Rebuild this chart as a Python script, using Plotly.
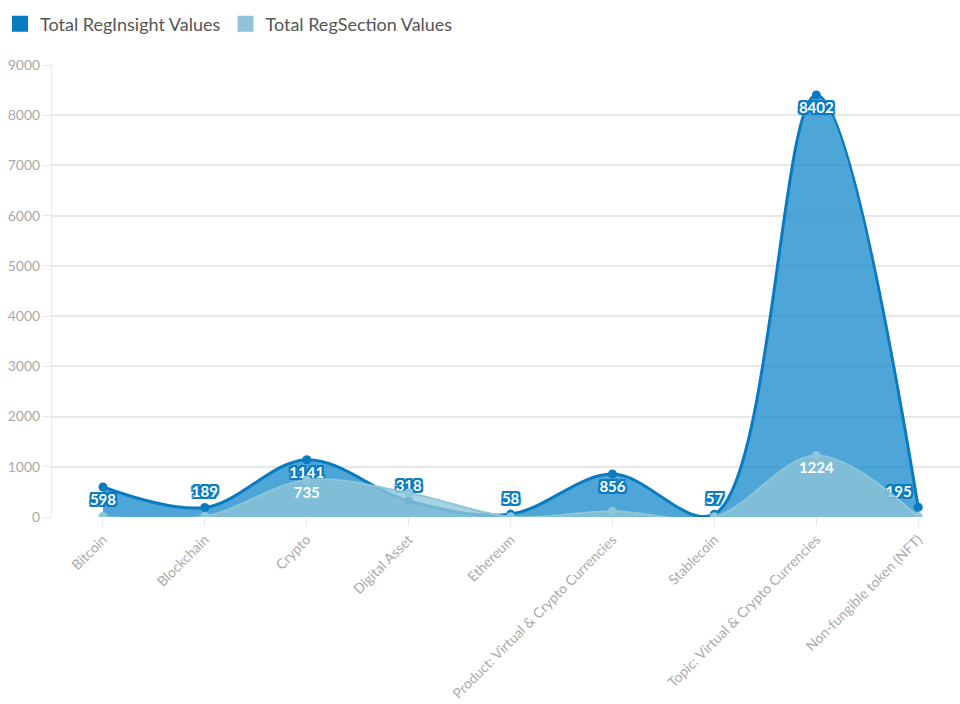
import plotly.graph_objects as go

categories = [
    "Bitcoin", "Blockchain", "Crypto", "Digital Asset", "Ethereum",
    "Product: Virtual & Crypto Currencies", "Stablecoin",
    "Topic: Virtual & Crypto Currencies", "Non-fungible token (NFT)",
]
reginsight_values = [598, 189, 1141, 318, 58, 856, 57, 8402, 195]
regsection_values = [12, 15, 735, 480, 6, 115, 4, 1224, 8]
# which RegSection values get a printed label
regsection_labelled = [False, False, True, False, False, False, False, True, False]

DARK = "#0a7bc0"
DARK_FILL = "rgba(18, 136, 201, 0.75)"
LIGHT = "#8ec5d9"
LIGHT_FILL = "rgba(142, 197, 217, 0.78)"
FONT = "Lato"

def outline(color, w=2):
    offs = [(-w, -w), (w, -w), (-w, w), (w, w), (0, -w), (0, w), (-w, 0), (w, 0)]
    return ", ".join(f"{dx}px {dy}px 0 {color}" for dx, dy in offs)

# labels sit below peaks and above troughs; the last one is pulled left of the edge
def positions(vals):
    out = []
    for i, v in enumerate(vals):
        left = vals[i - 1] if i > 0 else -1
        right = vals[i + 1] if i < len(vals) - 1 else -1
        out.append("bottom center" if v >= left and v >= right else "top center")
    out[-1] = "top left"
    return out

fig = go.Figure()

fig.add_trace(go.Scatter(
    x=categories, y=reginsight_values, name="Total RegInsight Values",
    mode="lines+markers+text", line=dict(color=DARK, width=3, shape="spline", smoothing=1),
    marker=dict(color=DARK, size=9), fill="tozeroy", fillcolor=DARK_FILL,
    text=[str(v) for v in reginsight_values], textposition=positions(reginsight_values),
    textfont=dict(family=FONT, size=15, color="white", weight="bold", shadow=outline(DARK)),
    showlegend=False, hoverinfo="x+y",
))

fig.add_trace(go.Scatter(
    x=categories, y=regsection_values, name="Total RegSection Values",
    mode="lines+markers+text", line=dict(color=LIGHT, width=2, shape="spline", smoothing=1),
    marker=dict(color=LIGHT, size=9), fill="tozeroy", fillcolor=LIGHT_FILL,
    text=[str(v) if s else "" for v, s in zip(regsection_values, regsection_labelled)],
    textposition="bottom center",
    textfont=dict(family=FONT, size=15, color="white", weight="bold"),
    showlegend=False, hoverinfo="x+y",
))

# legend entries
for name, color in [("Total RegInsight Values", DARK), ("Total RegSection Values", LIGHT)]:
    fig.add_trace(go.Scatter(
        x=[None], y=[None], name=name, mode="markers",
        marker=dict(symbol="square", size=17, color=color),
    ))

fig.update_layout(
    width=960, height=704,
    margin=dict(l=52, r=0, t=65, b=187),
    paper_bgcolor="white", plot_bgcolor="white",
    font=dict(family=FONT, color="#999999"),
    legend=dict(
        orientation="h", xref="container", yref="container", x=-0.01, y=0.992,
        xanchor="left", yanchor="top", itemwidth=30,
        font=dict(family=FONT, size=18, color="#555555"),
        tracegroupgap=0,
    ),
    xaxis=dict(
        type="category", range=[-0.5, 8.41], tickangle=-45, automargin=False,
        showgrid=False, showline=False, zeroline=False,
        ticks="outside", ticklen=8, tickcolor="#e6e6e6",
        tickfont=dict(family=FONT, size=14, color="#aaaaaa"),
    ),
    yaxis=dict(
        range=[0, 9000], dtick=1000, showgrid=True, gridcolor="#e8e8e8", gridwidth=1.5,
        showline=True, linecolor="#e8e8e8", linewidth=1, zeroline=False, automargin=False,
        ticks="outside", ticklen=8, tickcolor="#e8e8e8",
        tickfont=dict(family=FONT, size=14, color="#aaaaaa"),
    ),
)

fig.write_html("out.html")
